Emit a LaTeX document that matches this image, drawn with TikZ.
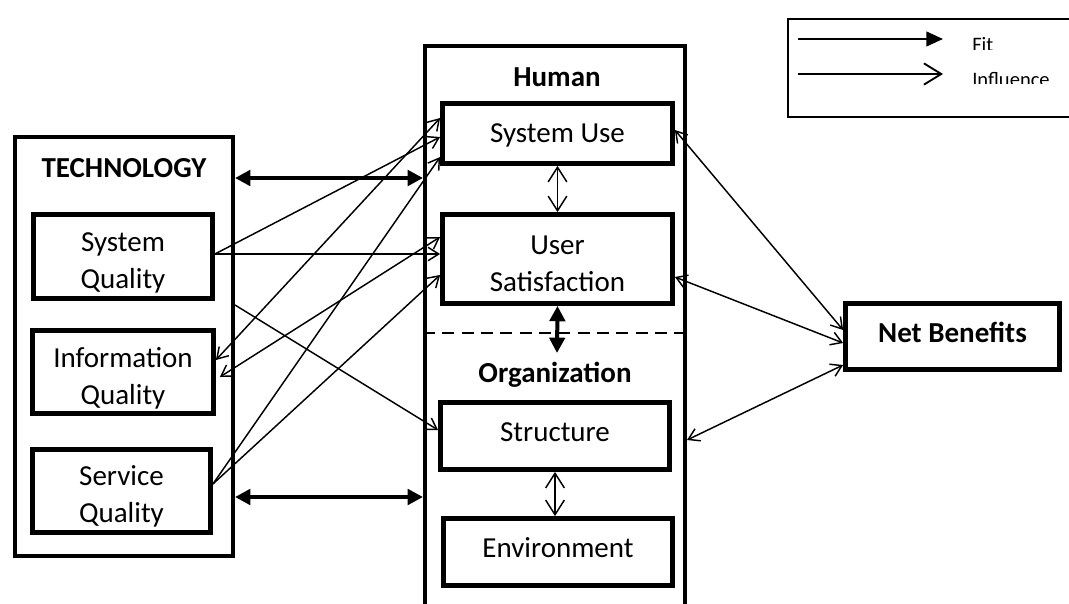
\documentclass[tikz,border=0pt]{standalone}
\usepackage{fontspec}
\setmainfont{Carlito}
\usetikzlibrary{arrows.meta}
\newcommand\mainsz{\fontsize{21.75pt}{27.75pt}\selectfont}
\newcommand\legsz{\fontsize{15.4pt}{18pt}\selectfont}
\begin{document}
\begin{tikzpicture}[x=0.75pt,y=-0.75pt,
  box/.style={draw, line width=3.6pt, rectangle, inner sep=0pt},
  txt/.style={align=center, font=\mainsz, inner sep=0pt},
  btxt/.style={align=center, font=\mainsz\bfseries, inner sep=0pt},
  lbl/.style={inner sep=0pt, font=\mainsz\bfseries},
  infl/.style={line width=1.1pt, -{Straight Barb[length=8pt,width=10pt]}},
  infl2/.style={line width=1.1pt, {Straight Barb[length=8pt,width=10pt]}-{Straight Barb[length=8pt,width=10pt]}},
  inflbig/.style={line width=1.1pt, {Straight Barb[length=11pt,width=14pt]}-{Straight Barb[length=11pt,width=14pt]}},
  fitarr/.style={line width=3pt, {Triangle[length=11.5pt,width=11.5pt]}-{Triangle[length=11.5pt,width=11.5pt]}}
]
\useasboundingbox (0,0) rectangle (1069,603);
\clip (0,0) rectangle (1069,603);
\fill[white] (0,0) rectangle (1069,603);

% Technology column
\node[draw, line width=3pt, minimum width=163.5pt, minimum height=314.25pt, inner sep=0pt] (tech) at (124,346.5) {};
\node[lbl] (techlbl) at (124,168) {TECHNOLOGY};
\node[box, minimum width=134.25pt, minimum height=63pt, label={[txt, yshift=-4.9pt]center:{System\\Quality}}] (sq) at (123,256.5) {};
\node[box, minimum width=135.75pt, minimum height=62.25pt, label={[txt, yshift=-4.5pt]center:{Information\\Quality}}] (iq) at (123,372) {};
\node[box, minimum width=133.5pt, minimum height=62.25pt, label={[txt, yshift=-3.75pt]center:{Service\\Quality}}] (svq) at (121.5,491) {};

% Human / Organization column
\node[draw, line width=3pt, minimum width=195pt, minimum height=445.5pt, inner sep=0pt] (hoc) at (555,343) {};
\node[lbl] (humlbl) at (557,77) {Human};
\node[box, minimum width=172.5pt, minimum height=45pt, label={[txt, yshift=-1.5pt]center:System Use}] (su) at (557.5,133.5) {};
\node[box, minimum width=172.5pt, minimum height=66.75pt, label={[txt, yshift=-3.75pt]center:{User\\Satisfaction}}] (us) at (557.5,259) {};
\node[lbl] (orglbl) at (555,375) {Organization};
\node[box, minimum width=171.75pt, minimum height=50.25pt, label={[txt, yshift=3pt]center:Structure}] (st) at (555,436) {};
\node[box, minimum width=171.75pt, minimum height=50.25pt, label={[txt, yshift=3pt]center:Environment}] (env) at (558,552) {};
\draw[line width=1.5pt, dash pattern=on 9pt off 5.5pt] (hoc.west |- 0,333) -- (hoc.east |- 0,333);
\coordinate (orgtip) at (557,353);

% Net benefits
\node[box, minimum width=160.5pt, minimum height=49.5pt, label={[btxt, yshift=2.8pt]center:Net Benefits}] (nb) at (952.5,336.5) {};

% Legend
\node[draw, line width=1.5pt, minimum width=215pt, minimum height=74pt, inner sep=0pt] (legend) at (931.5,68) {};
\coordinate (lf1) at (798,39);
\coordinate (lf2) at (943,39);
\coordinate (li1) at (798,74);
\coordinate (li2) at (943,74);
\draw[line width=1.6pt, -{Triangle[length=12.5pt,width=11pt]}] (lf1) -- (lf2);
\draw[line width=1.4pt, -{Straight Barb[length=13pt,width=16pt]}] (li1) -- (li2);
\begin{scope}
\clip (960,30) rectangle (1069,49);
\node[anchor=base west, font=\legsz, inner sep=0pt] (fitlbl) at (972,51) {Fit};
\end{scope}
\begin{scope}
\clip (960,60) rectangle (1069,83);
\node[anchor=base west, font=\legsz, inner sep=0pt] (infllbl) at (972,86) {Influence};
\end{scope}

% Fit connectors
\draw[fitarr] (tech.east |- 0,178) -- (hoc.west |- 0,178);
\draw[fitarr] (tech.east |- 0,497) -- (hoc.west |- 0,497);
\draw[fitarr] (us.south) -- (orgtip);

% Influence connectors
\draw[infl] (sq.east |- 0,254) -- (us.west |- 0,254);
\draw[infl] (sq.east |- 0,254) -- (su.west |- 0,137);
\draw[infl2] (iq.east |- 0,360) -- (su.west |- 0,118);
\draw[infl2] ([xshift=3pt]iq.east |- 0,377) -- (us.west |- 0,237);
\draw[infl] (svq.east |- 0,484) -- (su.west |- 0,157);
\draw[infl] (svq.east |- 0,484) -- (us.west |- 0,275);
\draw[infl] (tech.east |- 0,305) -- (st.west |- 0,430);
\draw[infl2] (su.east |- 0,130) -- (nb.west |- 0,330);
\draw[infl2] (us.east |- 0,277) -- (nb.west |- 0,343);
\draw[infl2] (hoc.east |- 0,440) -- (nb.west |- 0,365);
\draw[inflbig] (su.south) -- (us.north);
\draw[inflbig] (st.south) -- (st.south |- env.north);
\end{tikzpicture}
\end{document}
